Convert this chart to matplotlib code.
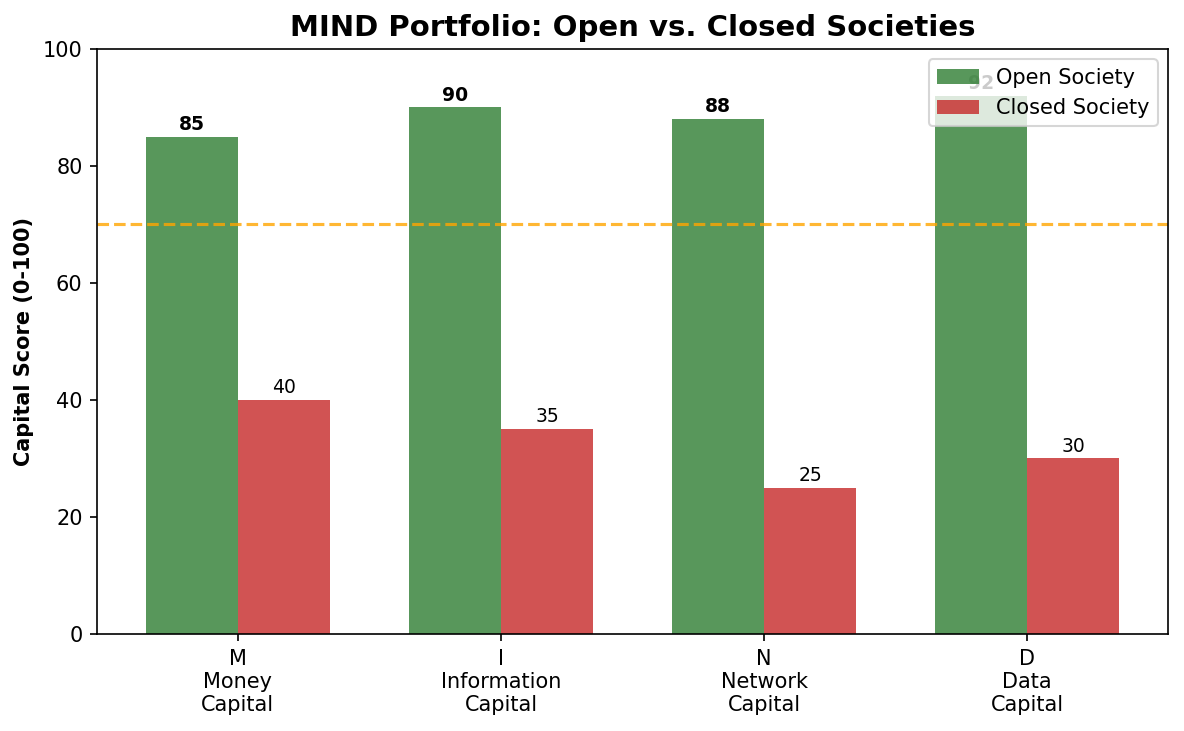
import matplotlib
matplotlib.use('Agg')
import matplotlib.pyplot as plt
import numpy as np

categories = ['M\nMoney\nCapital', 'I\nInformation\nCapital', 'N\nNetwork\nCapital', 'D\nData\nCapital']
open_society = [85, 90, 88, 92]
closed_society = [40, 35, 25, 30]
threshold = 70

fig = plt.figure(figsize=(1184 / 150, 731 / 150), dpi=150)
ax = fig.add_axes([0.082, 0.1327, 0.9045, 0.8003])

x = np.arange(len(categories))
width = 0.35

bars_open = ax.bar(x - width / 2, open_society, width, label='Open Society', color='#2E7D32', alpha=0.8)
bars_closed = ax.bar(x + width / 2, closed_society, width, label='Closed Society', color='#C62828', alpha=0.8)

ax.axhline(y=threshold, color='orange', linestyle='--', linewidth=1.5, alpha=0.8)

for bar in bars_open:
    h = bar.get_height()
    ax.text(bar.get_x() + bar.get_width() / 2, h + 0.5, f'{h:.0f}', ha='center', va='bottom',
            fontsize=9, fontweight='bold')
for bar in bars_closed:
    h = bar.get_height()
    ax.text(bar.get_x() + bar.get_width() / 2, h + 0.5, f'{h:.0f}', ha='center', va='bottom', fontsize=9)

ax.set_ylim(0, 100)
ax.set_xticks(x)
ax.set_xticklabels(categories, fontsize=10)
ax.tick_params(axis='y', labelsize=10)
ax.set_ylabel('Capital Score (0-100)', fontsize=10, fontweight='bold')
ax.set_title('MIND Portfolio: Open vs. Closed Societies', fontsize=14, fontweight='bold')
ax.legend(loc='upper right', fontsize=10)

fig.savefig('out.png', dpi=150)
